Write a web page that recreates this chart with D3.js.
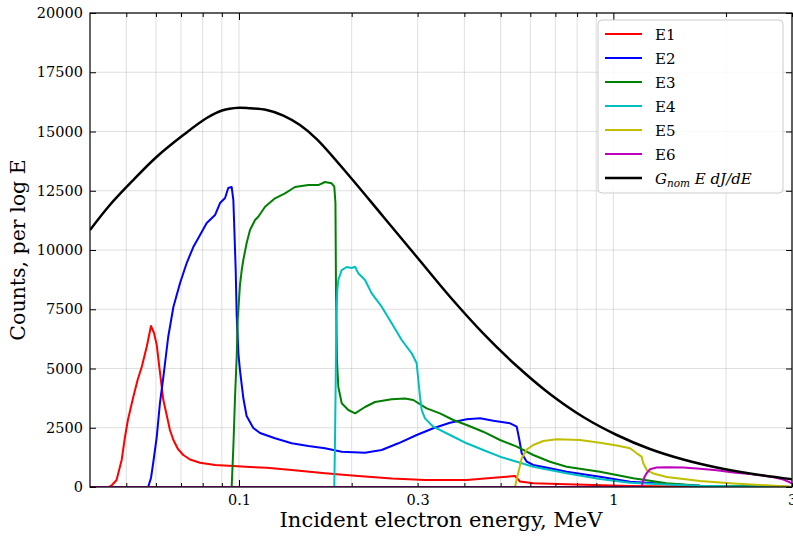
<!DOCTYPE html>
<html>
<head>
<meta charset="utf-8">
<script src="https://cdn.jsdelivr.net/npm/d3@7"></script>
<style>
html,body{margin:0;padding:0;background:#fff;}
svg{display:block;}
text{font-family:"DejaVu Serif","Liberation Serif",serif;fill:#000;}
</style>
</head>
<body>
<svg id="chart" width="793" height="537"></svg>
<script>
// ---- data (energy MeV, counts per log E) ----
const E1 = [[0.04,0],[0.0448,0],[0.0458,84],[0.0471,295],[0.0486,1139],[0.0496,2110],[0.0505,2827],[0.0522,3797],[0.0536,4514],[0.0550,5075],[0.0567,5919],[0.0582,6793],[0.0593,6497],[0.0603,5991],[0.0615,4852],[0.0628,3670],[0.0641,3038],[0.0654,2405],[0.0668,1983],[0.0687,1603],[0.0710,1350],[0.0740,1160],[0.0787,1025],[0.0863,928],[0.0966,886],[0.107,844],[0.1186,810],[0.1383,717],[0.1697,578],[0.2083,464],[0.2558,354],[0.3139,295],[0.4057,295],[0.498,409],[0.546,464],[0.563,232],[0.611,156],[0.750,114],[1.108,42],[1.704,8],[3.0,0]];
const E2 = [[0.04,0],[0.0572,0],[0.0582,380],[0.0590,1013],[0.0603,2110],[0.0615,3544],[0.0628,4641],[0.0647,6329],[0.0668,7594],[0.0696,8607],[0.0725,9451],[0.0755,10126],[0.0787,10632],[0.0820,11138],[0.0863,11476],[0.0890,11982],[0.0918,12193],[0.0936,12615],[0.0956,12657],[0.0966,12109],[0.0972,10843],[0.0980,9155],[0.0986,7257],[0.0996,5653],[0.1006,4936],[0.1027,3755],[0.1048,2996],[0.1092,2489],[0.1138,2278],[0.1248,2059],[0.1383,1844],[0.1532,1730],[0.1697,1633],[0.1881,1490],[0.2171,1447],[0.2405,1561],[0.2665,1844],[0.2983,2194],[0.3304,2477],[0.3661,2713],[0.4057,2856],[0.4404,2898],[0.478,2797],[0.530,2687],[0.552,2544],[0.561,1983],[0.569,1422],[0.587,1067],[0.611,928],[0.677,789],[0.750,646],[0.921,435],[1.108,224],[1.388,127],[1.704,55],[3.0,0]];
const E3 = [[0.04,0],[0.0956,0],[0.0966,1688],[0.0976,3797],[0.0986,5485],[0.0992,7046],[0.1006,8522],[0.1017,9155],[0.1027,9577],[0.1048,10282],[0.107,10843],[0.1104,11265],[0.1126,11404],[0.1174,11826],[0.1248,12180],[0.1327,12391],[0.1411,12657],[0.1532,12741],[0.1629,12741],[0.1697,12868],[0.1768,12813],[0.1797,12670],[0.1810,11982],[0.1816,8311],[0.1827,5358],[0.1842,4232],[0.1881,3531],[0.1959,3249],[0.2042,3109],[0.2171,3375],[0.2308,3586],[0.2558,3700],[0.2776,3734],[0.2921,3671],[0.3172,3320],[0.3442,3109],[0.3736,2827],[0.4057,2616],[0.449,2333],[0.498,1983],[0.552,1701],[0.611,1350],[0.677,1067],[0.750,857],[0.921,646],[1.130,367],[1.388,156],[1.704,55],[3.0,0]];
const E4 = [[0.04,0],[0.1797,0],[0.1805,1983],[0.1813,4514],[0.1820,7046],[0.1831,8311],[0.1842,8733],[0.1881,9155],[0.1940,9282],[0.2000,9240],[0.2042,9295],[0.2083,9016],[0.2171,8733],[0.2262,8172],[0.2405,7607],[0.2558,6906],[0.2720,6202],[0.2893,5641],[0.2983,5219],[0.3013,4514],[0.3032,4092],[0.3044,3810],[0.3076,3249],[0.3139,2897],[0.3304,2544],[0.3661,2194],[0.4057,1844],[0.449,1561],[0.498,1279],[0.552,1067],[0.611,857],[0.750,578],[0.921,338],[1.108,181],[1.388,105],[1.704,51],[3.0,0]];
const E5 = [[0.04,0],[0.546,0],[0.553,380],[0.557,591],[0.569,1211],[0.587,1582],[0.611,1772],[0.650,1941],[0.706,2012],[0.814,1983],[0.921,1869],[1.021,1751],[1.108,1633],[1.154,1422],[1.190,1279],[1.202,1000],[1.228,717],[1.278,570],[1.388,422],[1.704,253],[2.092,148],[3.0,13]];
const E6 = [[0.04,0],[1.190,0],[1.202,295],[1.215,464],[1.228,591],[1.252,747],[1.305,823],[1.388,831],[1.537,823],[1.704,768],[1.888,705],[2.092,612],[2.316,548],[2.566,464],[2.702,401],[2.844,316],[3.0,156]];
const GNOM = [[0.04,10843],[0.0452,11898],[0.0522,12952],[0.0603,13935],[0.0710,14851],[0.082,15568],[0.0901,15885],[0.1,16000],[0.107,15977],[0.1186,15906],[0.1314,15674],[0.1455,15273],[0.1613,14682],[0.1979,13092],[0.2430,11404],[0.2983,9716],[0.3661,8029],[0.449,6485],[0.552,5105],[0.677,3924],[0.831,2953],[1.021,2194],[1.252,1603],[1.537,1160],[1.888,823],[2.316,570],[3.0,325]];

const seriesNames = ["E1","E2","E3","E4","E5","E6"];
const seriesData = [E1,E2,E3,E4,E5,E6];
const seriesColors = ["#ff0000","#0000ff","#008000","#00bfbf","#bfbf00","#bf00bf"];

const xMajorTicks = [0.1, 1];
const xMinorTicks = [0.05,0.06,0.07,0.08,0.09,0.2,0.3,0.4,0.5,0.6,0.7,0.8,0.9,2,3];
const xLabelTicks = [0.1, 0.3, 1, 3];
const xLabelText = ["0.1","0.3","1","3"];
const yTicks = [0,2500,5000,7500,10000,12500,15000,17500,20000];

// ---- layout ----
const L = 90, R = 792, T = 13, B = 487;
const FONT = '"DejaVu Serif","Liberation Serif",serif';
const svg = d3.select("#chart");
const x = d3.scaleLog().domain([0.04, 3]).range([L, R]);
const y = d3.scaleLinear().domain([0, 20000]).range([B, T]);

// grid
const grid = svg.append("g").attr("stroke", "#b0b0b0").attr("stroke-opacity", 0.4).attr("stroke-width", 1);
xMajorTicks.concat(xMinorTicks).forEach(v => {
  grid.append("line").attr("x1", x(v)).attr("x2", x(v)).attr("y1", T).attr("y2", B);
});
yTicks.forEach(v => {
  grid.append("line").attr("x1", L).attr("x2", R).attr("y1", y(v)).attr("y2", y(v));
});

// clip
svg.append("clipPath").attr("id","clip").append("rect")
  .attr("x", L).attr("y", T - 2).attr("width", R - L).attr("height", B - T + 2);

const line = d3.line().x(d => x(d[0])).y(d => y(d[1])).curve(d3.curveLinear);
const plot = svg.append("g").attr("clip-path", "url(#clip)");
seriesData.forEach((s, i) => {
  plot.append("path").datum(s).attr("d", line)
    .attr("fill", "none").attr("stroke", seriesColors[i]).attr("stroke-width", 2)
    .attr("stroke-linejoin", "round");
});
const smooth = d3.line().x(d => x(d[0])).y(d => y(d[1])).curve(d3.curveCatmullRom.alpha(0.5));
plot.append("path").datum(GNOM).attr("d", smooth)
  .attr("fill", "none").attr("stroke", "#000").attr("stroke-width", 2.5);

// axes
function styleAxis(g) {
  g.select(".domain").remove();
  g.selectAll("line").attr("stroke", "#000").attr("stroke-width", 1);
  g.selectAll("text").attr("font-size", 14.5).style("font-family", FONT);
}
svg.append("g").attr("transform", `translate(0,${B})`)
  .call(d3.axisBottom(x).tickValues(xMinorTicks).tickSize(-4).tickFormat("")).call(styleAxis);
svg.append("g").attr("transform", `translate(0,${B})`)
  .call(d3.axisBottom(x).tickValues(xMajorTicks).tickSize(-7).tickFormat("")).call(styleAxis);
svg.append("g").attr("transform", `translate(0,${B})`)
  .call(d3.axisBottom(x).tickValues(xLabelTicks).tickSize(0).tickPadding(8)
    .tickFormat((d, i) => xLabelText[i])).call(styleAxis);
svg.append("g").attr("transform", `translate(0,${T})`)
  .call(d3.axisTop(x).tickValues(xMinorTicks).tickSize(-4).tickFormat("")).call(styleAxis);
svg.append("g").attr("transform", `translate(0,${T})`)
  .call(d3.axisTop(x).tickValues(xMajorTicks).tickSize(-7).tickFormat("")).call(styleAxis);
svg.append("g").attr("transform", `translate(${L},0)`)
  .call(d3.axisLeft(y).tickValues(yTicks).tickSize(-6).tickPadding(7).tickFormat(d3.format("d"))).call(styleAxis);
svg.append("g").attr("transform", `translate(${R},0)`)
  .call(d3.axisRight(y).tickValues(yTicks).tickSize(-6).tickFormat("")).call(styleAxis);

svg.append("rect").attr("x", L).attr("y", T).attr("width", R - L).attr("height", B - T)
  .attr("fill", "none").attr("stroke", "#000").attr("stroke-width", 1.2);

// titles
svg.append("text").attr("x", (L + R) / 2).attr("y", 527).attr("text-anchor", "middle")
  .attr("font-size", 21).text("Incident electron energy, MeV");
svg.append("text").attr("transform", `translate(25,${(T + B) / 2}) rotate(-90)`)
  .attr("text-anchor", "middle").attr("font-size", 20.5).text("Counts, per log E");

// legend
const lg = svg.append("g");
lg.append("rect").attr("x", 598).attr("y", 20).attr("width", 185).attr("height", 173)
  .attr("rx", 4).attr("fill", "#fff").attr("fill-opacity", 0.85)
  .attr("stroke", "#cccccc").attr("stroke-width", 1);
const legNames = seriesNames.concat(["G"]);
const legColors = seriesColors.concat(["#000"]);
legNames.forEach((n, i) => {
  const yy = 34 + i * 24;
  lg.append("line").attr("x1", 605).attr("x2", 642).attr("y1", yy).attr("y2", yy)
    .attr("stroke", legColors[i]).attr("stroke-width", i === 6 ? 2.5 : 2);
  const t = lg.append("text").attr("x", 655).attr("y", yy + 5.5).attr("font-size", 15);
  if (i < 6) {
    t.text(n);
  } else {
    t.attr("font-style", "italic");
    t.append("tspan").text("G");
    t.append("tspan").attr("font-size", 10.5).attr("dy", 3.5).text("nom");
    t.append("tspan").attr("dy", -3.5).text(" E dJ/dE");
  }
});
</script>
</body>
</html>
